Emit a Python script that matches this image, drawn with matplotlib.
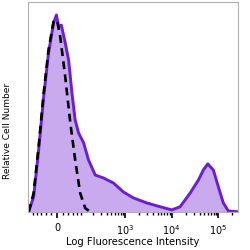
import numpy as np
import matplotlib
matplotlib.use("Agg")
import matplotlib.pyplot as plt

# stained sample (purple, filled)
stained_x = [-132, -99, -72, -49, -30, -12, -2, 5.5, 15, 29, 42, 56, 71, 89, 120, 157,
             224, 341, 562, 924, 1515, 2935, 5656, 10077, 15170, 24830, 37400,
             47800, 59400, 78300, 100200, 128200, 164000, 264600]
stained_y = [0.1, 7.3, 29.5, 54.9, 75.6, 89.9, 93.8, 88.2, 89.0, 80.5, 72.4, 56.7, 43.8,
             37.6, 32.9, 24.8, 17.6, 16.2, 13.8, 9.5, 6.7, 4.3, 2.5, 1.0, 2.5, 9.0,
             15.2, 20.0, 22.9, 20.0, 12.0, 4.3, 0.5, 0.1]

# isotype control (black, dashed)
control_x = [-132, -99, -72, -49, -30, -12, 0, 11, 29, 49, 71, 98, 131, 172]
control_y = [0.1, 9.0, 31.0, 56.7, 77.1, 90.6, 91.4, 83.5, 64.4, 42.4, 24.8, 9.0, 1.9, 0.1]

major_ticks = [0, 1e3, 1e4, 1e5]
major_labels = ['0', '10$^3$', '10$^4$', '10$^5$']

W = 69.4


def fwd(x):
    return np.arcsinh(np.asarray(x) / W) / np.log(10)


def inv(y):
    return np.sinh(np.asarray(y) * np.log(10)) * W


fig = plt.figure(figsize=(2.5, 2.5), dpi=100)
ax = fig.add_axes([0.112, 0.152, 0.84, 0.84])
ax.set_xscale('function', functions=(fwd, inv))

ax.fill_between(stained_x, stained_y, 0, color='#c9aaee', lw=0)
ax.plot(stained_x, stained_y, color='#6a1fd0', lw=2.1, solid_joinstyle='round')
ax.plot(control_x, control_y, color='black', lw=1.9, dashes=(3, 2))

ax.set_xlim(-137, 264600)
ax.set_ylim(0, 100)

minor = [-100, -80, -60, -40, -20, 20, 40, 60, 80] + \
    list(range(100, 1000, 100)) + list(range(2000, 10000, 1000)) + \
    list(range(20000, 100000, 10000)) + [200000]
ax.set_xticks(major_ticks)
ax.set_xticklabels(major_labels, fontsize=7)
ax.set_xticks(minor, minor=True)
ax.tick_params(axis='x', which='major', length=4, width=1.2, direction='out', pad=4)
ax.tick_params(axis='x', which='minor', length=2.5, width=1.0, direction='out')
ax.set_yticks([])

for s in ax.spines.values():
    s.set_color('#b0b0b0')
    s.set_linewidth(0.8)

ax.set_xlabel('Log Fluorescence Intensity', fontsize=7.2, labelpad=0)
ax.set_ylabel('Relative Cell Number', fontsize=6.5)
ax.yaxis.set_label_coords(-0.076, 0.386)

fig.savefig('out.png', dpi=100)
